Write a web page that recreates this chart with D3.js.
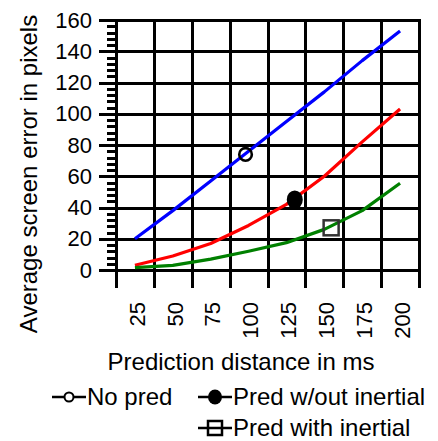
<!doctype html>
<html>
<head>
<meta charset="utf-8">
<script src="https://d3js.org/d3.v7.min.js"></script>
<style>
  body { margin: 0; background: #fff; }
  svg text { font-family: "Liberation Sans", Arial, sans-serif; fill: #000; }
</style>
</head>
<body>
<svg width="438" height="441"></svg>
<script>
// prediction distances (ms)
var distances = [25, 50, 75, 100, 125, 150, 175, 200];
// average screen error (pixels) per series
var noPred      = [20, 38, 57, 76, 95, 114, 134, 153];
var predNoInert = [3, 9, 17, 28.5, 42, 60, 82, 103];
var predInert   = [1.5, 3, 7, 12, 17.5, 26, 38, 55.5];
// single measured points
var markerX = [98, 130.5, 154.5];
var markerY = [74, 45, 27];
var legendLabels = ["No pred", "Pred w/out inertial", "Pred with inertial"];
var yTicks = [0, 20, 40, 60, 80, 100, 120, 140, 160];

var svg = d3.select("svg");
var x = d3.scaleLinear().domain([12.5, 212.5]).range([116, 419]);
var y = d3.scaleLinear().domain([0, 160]).range([270, 20]);
function crisp(v) { return Math.round(v) + 0.5; }

// horizontal grid + major ticks
svg.append("g").selectAll("line")
    .data(yTicks)
    .enter().append("line")
    .attr("x1", 99).attr("x2", 420)
    .attr("y1", function(d) { return crisp(y(d)); })
    .attr("y2", function(d) { return crisp(y(d)); })
    .attr("stroke", "#000").attr("stroke-width", 3);

// vertical grid between categories
var bounds = d3.range(12.5, 213, 25);
svg.append("g").selectAll("line")
    .data(bounds)
    .enter().append("line")
    .attr("x1", function(d) { return crisp(x(d)); })
    .attr("x2", function(d) { return crisp(x(d)); })
    .attr("y1", 19).attr("y2", 288)
    .attr("stroke", "#000").attr("stroke-width", 3);

// minor y ticks
var minor = d3.range(0, 161, 4).filter(function(d) { return d % 20 != 0; });
svg.append("g").selectAll("line")
    .data(minor)
    .enter().append("line")
    .attr("x1", 107).attr("x2", 116)
    .attr("y1", function(d) { return crisp(y(d)); })
    .attr("y2", function(d) { return crisp(y(d)); })
    .attr("stroke", "#000").attr("stroke-width", 3);

svg.append("g")
    .attr("transform", "translate(116,0)")
    .call(d3.axisLeft(y).tickValues(yTicks).tickSize(0).tickPadding(24))
    .call(function(g) {
        g.select(".domain").remove();
        g.selectAll("text").attr("font-size", 22)
            .style("font-family", "'Liberation Sans', Arial, sans-serif");
    });

svg.append("g")
    .attr("transform", "translate(0,270)")
    .call(d3.axisBottom(x).tickValues(distances).tickSize(0).tickFormat(d3.format("d")))
    .call(function(g) {
        g.select(".domain").remove();
        g.selectAll("text")
            .attr("font-size", 22)
            .style("font-family", "'Liberation Sans', Arial, sans-serif")
            .attr("text-anchor", "end")
            .attr("transform", "rotate(-90)")
            .attr("x", -32)
            .attr("y", 1.5)
            .attr("dy", "0.35em");
    });

var line = d3.line()
    .x(function(d, i) { return x(distances[i]); })
    .y(function(d) { return y(d); });

var series = [
    { values: noPred, color: "#0000ff" },
    { values: predNoInert, color: "#ff0000" },
    { values: predInert, color: "#008000" }
];
svg.append("g").selectAll("path")
    .data(series)
    .enter().append("path")
    .attr("d", function(d) { return line(d.values); })
    .attr("fill", "none")
    .attr("stroke", function(d) { return d.color; })
    .attr("stroke-width", 3.2)
    .attr("stroke-linejoin", "round");

svg.append("circle")
    .attr("cx", x(markerX[0])).attr("cy", y(markerY[0])).attr("r", 6.3)
    .attr("fill", "none").attr("stroke", "#000").attr("stroke-width", 2.6);
svg.append("ellipse")
    .attr("cx", x(markerX[1])).attr("cy", y(markerY[1])).attr("rx", 8).attr("ry", 9.3)
    .attr("fill", "#000");
svg.append("rect")
    .attr("x", x(markerX[2]) - 7.5).attr("y", y(markerY[2]) - 7.5)
    .attr("width", 15).attr("height", 15)
    .attr("fill", "none").attr("stroke", "#333").attr("stroke-width", 2.5);

svg.append("text")
    .attr("transform", "translate(37,174) rotate(-90)")
    .attr("text-anchor", "middle")
    .attr("font-size", 24)
    .text("Average screen error in pixels");

svg.append("text")
    .attr("x", 241).attr("y", 370)
    .attr("text-anchor", "middle")
    .attr("font-size", 24)
    .text("Prediction distance in ms");

// legend
var leg = svg.append("g");
var legPos = [[52, 397], [198, 397], [198, 428]];
legPos.forEach(function(p, i) {
    leg.append("line")
        .attr("x1", p[0]).attr("x2", p[0] + 34)
        .attr("y1", p[1]).attr("y2", p[1])
        .attr("stroke", "#000").attr("stroke-width", 2.5);
    var cx = p[0] + 17;
    if (i == 0) {
        leg.append("circle").attr("cx", cx).attr("cy", p[1]).attr("r", 4.5)
            .attr("fill", "#fff").attr("stroke", "#000").attr("stroke-width", 2);
    } else if (i == 1) {
        leg.append("ellipse").attr("cx", cx).attr("cy", p[1]).attr("rx", 7).attr("ry", 7.5)
            .attr("fill", "#000");
    } else {
        leg.append("rect").attr("x", cx - 7).attr("y", p[1] - 7)
            .attr("width", 14).attr("height", 14)
            .attr("fill", "none").attr("stroke", "#000").attr("stroke-width", 2.5);
    }
    leg.append("text")
        .attr("x", p[0] + 35).attr("y", p[1] + 8)
        .attr("font-size", 24)
        .text(legendLabels[i]);
});
</script>
</body>
</html>
